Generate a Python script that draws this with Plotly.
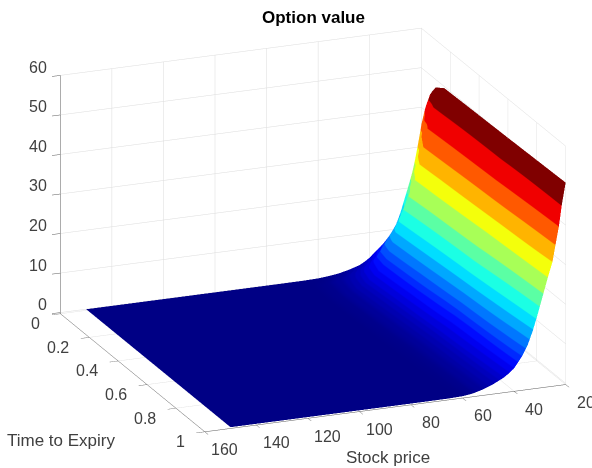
import plotly.graph_objects as go

W, H = 592, 468

stock_price = [20, 21.5, 22.6, 23.9, 25.1, 26.9, 29, 30.8, 32.8, 34.7, 36.7, 38, 40, 42, 44, 48, 52, 56, 60, 66, 75, 90, 150]
time_to_expiry = [0, 0.03, 0.06, 0.1, 0.16, 0.3, 0.6, 1]

v_t000 = [35, 29, 26, 22, 19.5, 16.5, 12, 9.8, 8.2, 6.8, 5.6, 4.9, 3.7, 2.8, 2.1, 1.3, 0.7, 0.35, 0.13, 0.02, 0, 0, 0]
v_t003 = [41, 37, 33, 28.5, 25, 21, 16.5, 13, 10.7, 8.8, 7.2, 6.2, 4.8, 3.7, 2.9, 1.8, 1, 0.55, 0.2, 0.03, 0, 0, 0]
v_t006 = [45, 41, 36, 32, 28.5, 24, 19, 15, 12.5, 10.5, 9, 8, 6.2, 5, 4, 2.6, 1.6, 0.9, 0.35, 0.05, 0, 0, 0]
v_t010 = [48, 47, 45.5, 42.5, 36, 31, 26, 21.5, 17.6, 15, 13, 12, 10, 7.8, 5.5, 3.4, 2, 1, 0.4, 0.06, 0, 0, 0]
v_t016 = [49.6, 48, 47, 45.6, 43.4, 38.8, 32.7, 28.6, 25.2, 22.3, 19, 16.4, 12.3, 9, 6.5, 4, 2.4, 1.2, 0.5, 0.08, 0, 0, 0]
v_t030 = [49.8, 47.8, 46.5, 44.5, 41.8, 36.8, 31, 27.5, 23.7, 20.5, 17, 14.5, 10.7, 8, 5.9, 3.6, 2.1, 1.05, 0.43, 0.07, 0, 0, 0]
v_t060 = [50.2, 47.5, 45.4, 42, 38.5, 32.5, 27.4, 24.3, 21, 17, 12.8, 10.4, 7.4, 5.7, 4.6, 2.8, 1.6, 0.75, 0.28, 0.05, 0, 0, 0]
v_t100 = [50.8, 45.2, 40, 35.5, 31.2, 27.4, 22.6, 18.5, 14.3, 11, 8.5, 7.3, 5.5, 4.4, 3.5, 2.2, 1.2, 0.5, 0.15, 0.03, 0, 0, 0]
option_value = [v_t000, v_t003, v_t006, v_t010, v_t016, v_t030, v_t060, v_t100]

band_tops = [50.8, 45.2, 40, 35.5, 31.2, 27.4, 23.6, 20.4, 17.4, 14.7, 12.3, 10.2, 8.4, 6.9, 5.6,
             4.5, 3.6, 2.9, 2.3, 1.8, 1.4, 1.1, 0.85, 0.65, 0.5, 0.35, 0.2, 0.1, 0]

stock_ticks = [20, 40, 60, 80, 100, 120, 140, 160]
time_ticks = [0, 0.2, 0.4, 0.6, 0.8, 1]
value_ticks = [0, 10, 20, 30, 40, 50, 60]


def jet(t):
    stops = [(0, (0, 0, 0.5156)), (0.125, (0, 0, 1)), (0.375, (0, 1, 1)),
             (0.625, (1, 1, 0)), (0.875, (1, 0, 0)), (1, (0.5, 0, 0))]
    for (a, ca), (b, cb) in zip(stops, stops[1:]):
        if t <= b:
            f = (t - a) / (b - a)
            c = [ca[i] + f * (cb[i] - ca[i]) for i in range(3)]
            return "rgb(%d,%d,%d)" % tuple(round(255 * v) for v in c)
    return "rgb(128,0,0)"


zmax = band_tops[0]
edges = sorted(band_tops)
scale = []
for lo, hi in zip(edges, edges[1:]):
    col = jet(hi / zmax)
    scale.append([lo / zmax, col])
    scale.append([hi / zmax, col])

fig = go.Figure(go.Surface(
    x=stock_price, y=time_to_expiry, z=option_value,
    colorscale=scale, cmin=0, cmax=zmax, showscale=False,
    lighting=dict(ambient=1, diffuse=0, specular=0, roughness=1, fresnel=0),
    hoverinfo="skip",
))

FONT = "Liberation Sans"
TICK = dict(family=FONT, size=16, color="#404040")


def axis(vals, rng, ticklen):
    return dict(
        range=rng, tickvals=vals, ticktext=[str(v) for v in vals], title=dict(text=""),
        showgrid=True, gridcolor="#dcdcdc", gridwidth=1, zeroline=False,
        showline=True, linecolor="#5a5a5a", linewidth=1, ticks="outside", ticklen=ticklen,
        tickcolor="#5a5a5a", showticklabels=False, showbackground=False, showspikes=False,
        autorange=False,
    )


def tick_label(x, y, z, text, xshift, yshift, xanchor):
    return dict(x=x, y=y, z=z, text=text, showarrow=False, xshift=xshift, yshift=yshift,
                xanchor=xanchor, yanchor="middle", font=TICK)


tick_labels = (
    [tick_label(160, 0, v, str(v), -11, 8, "right") for v in value_ticks]
    + [tick_label(160, v, 0, str(v), -18, -11, "right") for v in time_ticks]
    + [tick_label(v, 1, 0, str(v), 20, -19, "center") for v in stock_ticks]
)

ZOOM = 1.69
fig.update_layout(
    width=W, height=H, margin=dict(l=0, r=0, t=0, b=0),
    paper_bgcolor="white", showlegend=False,
    scene=dict(
        domain=dict(x=[0, 1], y=[8 / H, 1]),
        xaxis=axis(stock_ticks, [20, 160], 9),
        yaxis=axis(time_ticks, [0, 1], 9),
        zaxis=axis(value_ticks, [-0.3, 60], 5),
        aspectmode="manual", aspectratio=dict(x=ZOOM, y=ZOOM, z=0.649 * ZOOM),
        camera=dict(
            projection=dict(type="orthographic"),
            up=dict(x=0, y=0, z=1), center=dict(x=0.069, y=-0.027, z=0),
            eye=dict(x=0.351 * 2 + 0.069, y=0.877 * 2 - 0.027, z=0.327 * 2),
        ),
        annotations=tick_labels,
    ),
    annotations=[
        dict(text="<b>Option value</b>", x=313 / W, y=1 - 18 / H, xref="paper", yref="paper",
             xanchor="center", yanchor="middle",
             showarrow=False, font=dict(family=FONT, size=17, color="black")),
        dict(text="Stock price", x=388 / W, y=1 - 457 / H, xref="paper", yref="paper",
             xanchor="center", yanchor="middle",
             showarrow=False, font=dict(family=FONT, size=17, color="#404040")),
        dict(text="Time to Expiry", x=61 / W, y=1 - 440 / H, xref="paper", yref="paper",
             xanchor="center", yanchor="middle",
             showarrow=False, font=dict(family=FONT, size=17, color="#404040")),
    ],
)
fig.write_html("out.html", post_script="document.body.style.margin='0';",
               config=dict(displayModeBar=False))
